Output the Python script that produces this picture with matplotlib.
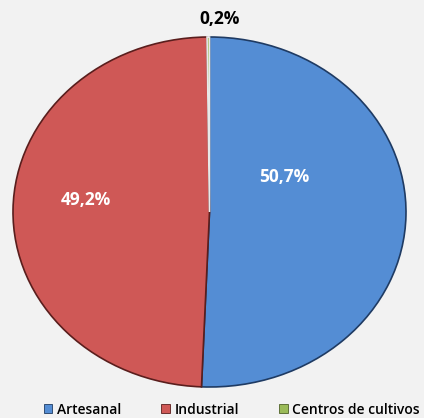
import numpy as np
import matplotlib.pyplot as plt
from matplotlib.patches import Patch

categorias = ['Artesanal', 'Industrial', 'Centros de cultivos']
valores = [50.7, 49.2, 0.2]
etiquetas = ['50,7%', '49,2%', '0,2%']
colores = ['#548dd4', '#cf5856', '#9bbb59']
bordes = ['#1f3b63', '#5a1e1d', '#e8e8e8']

plt.rcParams['font.family'] = ['Open Sans', 'DejaVu Sans']

fig = plt.figure(figsize=(4.24, 4.18), dpi=100)
fig.patch.set_facecolor('#f2f2f2')
ax = fig.add_axes([13/424, 31/418, 393/424, 350/418])
ax.set_facecolor('#f2f2f2')

wedges, _ = ax.pie(valores, colors=colores, startangle=90, counterclock=False,
                   radius=1, wedgeprops=dict(linewidth=1.2))
for w, b in zip(wedges, bordes):
    w.set_edgecolor(b)

ax.set_aspect('auto')
ax.set_xlim(-1, 1)
ax.set_ylim(-1, 1)
ax.axis('off')

# posiciones de las etiquetas (en coordenadas del eje)
pos = [(0.38, 0.20), (-0.63, 0.07), (0.05, 1.10)]
col_txt = ['white', 'white', 'black']
for (x, y), t, c in zip(pos, etiquetas, col_txt):
    ax.text(x, y, t, ha='center', va='center', fontsize=12.5,
            fontweight='bold', color=c, clip_on=False)

handles = [Patch(facecolor=c, edgecolor=b, linewidth=0.6)
           for c, b in zip(colores, ['#1f3b63', '#5a1e1d', '#4f6228'])]
fig.legend(handles, categorias, loc='center left', bbox_to_anchor=(31/424, 0.02),
           ncol=3, frameon=False, handlelength=0.6, handleheight=0.6,
           handletextpad=0.35, columnspacing=2.9,
           prop={'weight': 'semibold', 'size': 10})

fig.savefig('out.png', dpi=100, facecolor=fig.get_facecolor())
